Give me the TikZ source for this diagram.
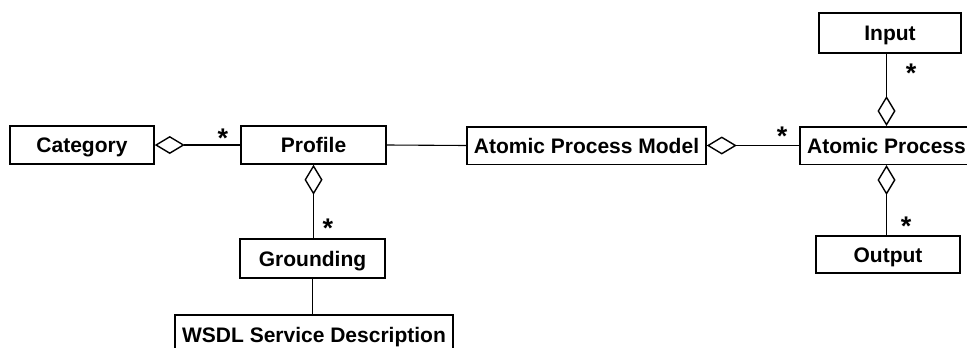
\documentclass[tikz,border=0pt]{standalone}
\usepackage{fontspec}
\setmainfont{Liberation Sans}
\usetikzlibrary{arrows.meta}
\tikzset{aggdia/.tip={Diamond[open,length=30pt,width=18pt,line width=1.4pt]}}
\begin{document}
\begin{tikzpicture}[x=1pt,y=-1pt,
  box/.style={draw, line width=1.5pt, inner sep=0pt, text height=15pt, text depth=0pt,
    font=\fontsize{21}{24}\selectfont\bfseries, minimum height=38pt},
  link/.style={line width=1.1pt},
  mult/.style={font=\fontsize{27}{30}\selectfont\bfseries, inner sep=0pt, anchor=base}]
\useasboundingbox (0,0) rectangle (967,348);
\clip (0,0) rectangle (967,348);
\node[box, minimum width=144pt] (category) at (82,145) {Category};
\node[box, minimum width=145pt] (profile) at (313.5,145) {Profile};
\node[box, minimum width=239pt, minimum height=37.5pt] (apm) at (586.5,145.5) {Atomic Process Model};
\node[box, minimum width=173pt, minimum height=37.5pt] (ap) at (886.5,145.5) {Atomic Process};
\node[box, minimum width=142pt, minimum height=40pt] (input) at (890,33) {Input};
\node[box, minimum width=144pt, minimum height=37pt] (output) at (888,254.5) {Output};
\node[box, minimum width=145pt, minimum height=39pt] (grounding) at (312.5,258.5) {Grounding};
\node[box, minimum width=278pt, minimum height=40pt] (wsdl) at (314,335) {WSDL Service Description};
\draw[link,-aggdia] (profile.west) -- (category.east);
\draw[link] (profile.east) -- (apm.west);
\draw[link,aggdia-] (apm.east) -- (ap.west);
\draw[link,-aggdia] (ap.north |- input.south) -- (ap.north);
\draw[link,aggdia-] (ap.south) -- (ap.south |- output.north);
\draw[link,aggdia-] (profile.south) -- (profile.south |- grounding.north);
\draw[link] (grounding.south) -- (grounding.south |- wsdl.north);
\node[mult] (m1) at (223,147.5) {*};
\node[mult] (m2) at (782,145.5) {*};
\node[mult] (m3) at (911,82.5) {*};
\node[mult] (m4) at (906,235.5) {*};
\node[mult] (m5) at (328,237.5) {*};
\end{tikzpicture}
\end{document}
